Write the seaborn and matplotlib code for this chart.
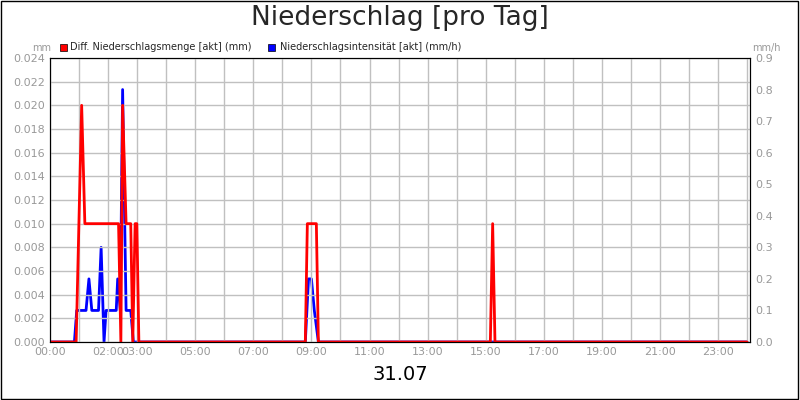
import matplotlib
matplotlib.use("Agg")
import matplotlib.pyplot as plt
import seaborn as sns
import pandas as pd
from matplotlib.patches import Rectangle

sns.set_style("white")
plt.rcParams['font.family'] = ['DejaVu Sans']

red_t = [0, 0.9, 1.09, 1.2, 2.36, 2.44, 2.5, 2.62, 2.78, 2.85, 2.93, 2.99, 3.06, 8.79, 8.86, 9.17, 9.24, 15.16, 15.24, 15.32, 24]
red_v = [0, 0, 0.02, 0.01, 0.01, 0, 0.02, 0.01, 0.01, 0, 0.01, 0.01, 0, 0, 0.01, 0.01, 0, 0, 0.01, 0, 0]
blue_t = [0, 0.84, 0.92, 1.24, 1.34, 1.44, 1.67, 1.76, 1.86, 1.93, 2.28, 2.33, 2.42, 2.5, 2.62, 2.78, 2.87, 8.79, 8.9, 9.0, 9.1, 9.24, 24]
blue_v = [0, 0, 0.1, 0.1, 0.2, 0.1, 0.1, 0.3, 0, 0.1, 0.1, 0.2, 0.1, 0.8, 0.1, 0.1, 0, 0, 0.2, 0.2, 0.1, 0, 0]
tick_hours = [0, 2, 3, 5, 7, 9, 11, 13, 15, 17, 19, 21, 23]
tick_labels = ["00:00", "02:00", "03:00", "05:00", "07:00", "09:00", "11:00", "13:00", "15:00", "17:00", "19:00", "21:00", "23:00"]

fig = plt.figure(figsize=(8, 4), dpi=100)
ax = fig.add_axes([50/800, 58/400, 700/800, 284/400])
ax2 = ax.twinx()
rd = pd.DataFrame({"t": red_t, "v": red_v})
bd = pd.DataFrame({"t": blue_t, "v": blue_v})
sns.lineplot(data=bd, x="t", y="v", ax=ax2, color="#0000ff", lw=2)
sns.lineplot(data=rd, x="t", y="v", ax=ax, color="#ff0000", lw=2)
ax.set_zorder(ax2.get_zorder() + 1); ax.patch.set_visible(False)

ax.set_xlim(0, 24.1)
ax.set_ylim(0, 0.024)
ax2.set_ylim(0, 0.9)
ax.set_yticks([i*0.002 for i in range(13)])
ax.set_yticklabels([f"{i*0.002:.3f}" for i in range(13)])
ax2.set_yticks([i*0.1 for i in range(10)])
ax2.set_yticklabels([f"{i*0.1:.1f}" for i in range(10)])
ax.set_xticks(tick_hours)
ax.set_xticklabels(tick_labels)
ax.set_xticks(range(25), minor=True)
ax.grid(True, which="both", axis="x", color="#c0c0c0", lw=1)
ax.grid(True, axis="y", color="#c0c0c0", lw=1)
for a in (ax, ax2):
    a.tick_params(labelsize=8, colors="#999999", length=0)
    a.set_xlabel(""); a.set_ylabel("")
    for s in a.spines.values():
        s.set_color("black")
ax.set_xlabel("31.07", fontsize=14, color="black", labelpad=6)

fig.text(0.5, 0.955, "Niederschlag [pro Tag]", ha="center", va="center", fontsize=19)
fig.text(32/800, 1-48/400, "mm", fontsize=7, color="#999999", va="center")
fig.text(752/800, 1-48/400, "mm/h", fontsize=7, color="#999999", va="center")
fig.patches.append(Rectangle((60/800, 1-51/400), 7/800, 7/400, transform=fig.transFigure, color="#ff0000", ec="black", lw=0.5))
fig.text(70/800, 1-47/400, "Diff. Niederschlagsmenge [akt] (mm)", fontsize=7, va="center")
fig.patches.append(Rectangle((268/800, 1-51/400), 7/800, 7/400, transform=fig.transFigure, color="#0000ff", ec="black", lw=0.5))
fig.text(280/800, 1-47/400, "Niederschlagsintensität [akt] (mm/h)", fontsize=7, va="center")
fig.patches.append(Rectangle((0.001, 0.002), 0.997, 0.996, transform=fig.transFigure, fill=False, ec="black", lw=1))
fig.savefig("out.png", dpi=100)
